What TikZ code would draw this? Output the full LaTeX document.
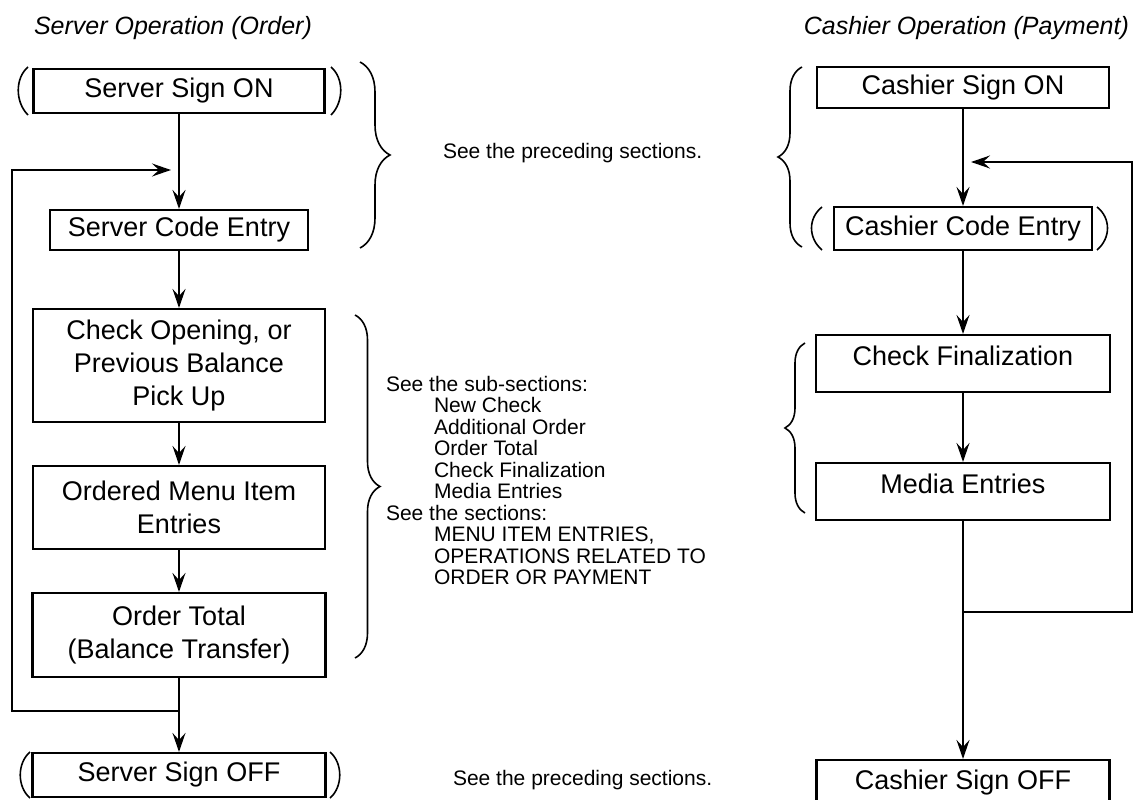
\documentclass[tikz,border=0pt]{standalone}
\usepackage{fontspec}
\setmainfont{Liberation Sans}
\usetikzlibrary{arrows.meta,decorations.pathreplacing}
\begin{document}
\begin{tikzpicture}[x=1pt,y=-1pt,line width=2.1pt,
    >={Stealth[length=19pt,width=13pt,inset=7pt]},
    box/.style={draw,inner sep=0pt,align=center,font=\fontsize{27}{33}\selectfont},
    toptext/.style={text height=30pt,text depth=27pt},
    paren/.style={line width=1.6pt},
    brc/.style={line width=1.6pt,decorate,decoration={brace,amplitude=#1}},
    note/.style={inner sep=0pt,font=\fontsize{21}{21.5}\selectfont},
    ttl/.style={inner sep=0pt,font=\itshape\fontsize{25}{30}\selectfont}]
    \useasboundingbox (0,0) rectangle (1144,800);

    % server column
    \node[ttl,anchor=west] (tServer) at (33,28) {Server Operation (Order)};
    \node[box,minimum width=291pt,minimum height=44pt] (sOn) at (179,91) {Server Sign ON};
    \node[box,minimum width=258pt,minimum height=40pt] (sCode) at (179,230) {Server Code Entry};
    \node[box,minimum width=292pt,minimum height=113pt] (sCheck) at (179,365.5) {Check Opening, or\\Previous Balance\\Pick Up};
    \node[box,minimum width=292pt,minimum height=83pt] (sMenu) at (179,507.5) {Ordered Menu Item\\Entries};
    \node[box,minimum width=293pt,minimum height=84pt] (sTot) at (179,635) {Order Total\\(Balance Transfer)};
    \node[box,minimum width=293pt,minimum height=44pt] (sOff) at (179,775) {Server Sign OFF};

    \draw[paren] (28,67) .. controls (15,78) and (15,102) .. (28,115);
    \draw[paren] (331,67) .. controls (344,78) and (344,102) .. (331,115);
    \draw[paren] (30,752) .. controls (17,763) and (17,787) .. (30,798);
    \draw[paren] (330,752) .. controls (343,763) and (343,787) .. (330,798);

    \coordinate (sMerge) at (179,170);
    \coordinate (sJoin) at (179,711);
    \coordinate (sBack) at (12,170);
    \draw[->] (sOn.south) -- (sCode.north);
    \draw[->] (sCode.south) -- (sCheck.north);
    \draw[->] (sCheck.south) -- (sMenu.north);
    \draw[->] (sMenu.south) -- (sTot.north);
    \draw[->] (sTot.south) -- (sOff.north);
    \draw[->] (sJoin) -| (sBack) -- ([xshift=-8pt]sMerge);

    % cashier column
    \node[ttl,anchor=east] (tCashier) at (1130,28) {Cashier Operation (Payment)};
    \node[box,minimum width=292pt,minimum height=41pt] (cOn) at (963,87.5) {Cashier Sign ON};
    \node[box,minimum width=258pt,minimum height=43pt] (cCode) at (963,228.5) {Cashier Code Entry};
    \node[box,toptext,minimum width=294pt,minimum height=57pt] (cFin) at (963,363.5) {Check Finalization};
    \node[box,toptext,minimum width=294pt,minimum height=57pt] (cMed) at (963,491.5) {Media Entries};
    \node[box,minimum width=293pt,minimum height=46pt] (cOff) at (963,783) {Cashier Sign OFF};

    \draw[paren] (822,207) .. controls (808,218) and (808,238) .. (822,250);
    \draw[paren] (1097,207) .. controls (1111,218) and (1111,238) .. (1097,250);

    \coordinate (cMerge) at (963,162);
    \coordinate (cJoin) at (963,612);
    \coordinate (cBack) at (1132,162);
    \draw[->] (cOn.south) -- (cCode.north);
    \draw[->] (cCode.south) -- (cFin.north);
    \draw[->] (cFin.south) -- (cMed.north);
    \draw[->] (cMed.south) -- (cOff.north);
    \draw[->] (cJoin) -| (cBack) -- ([xshift=8pt]cMerge);

    % braces and notes
    \draw[brc=30pt] (360,62) -- (360,248);
    \draw[brc=25pt] (355,315) -- (355,658);
    \draw[brc=24pt] (802,247) -- (802,67);
    \draw[brc=20pt] (805,513) -- (805,343);

    \node[note,anchor=west] (nPre) at (442,153) {See the preceding sections.};
    \node[note,anchor=north west,align=left] (nSub) at (385,375) {See the sub-sections:\\
      \hspace*{48pt}New Check\\
      \hspace*{48pt}Additional Order\\
      \hspace*{48pt}Order Total\\
      \hspace*{48pt}Check Finalization\\
      \hspace*{48pt}Media Entries\\
      See the sections:\\
      \hspace*{48pt}MENU ITEM ENTRIES,\\
      \hspace*{48pt}OPERATIONS RELATED TO\\
      \hspace*{48pt}ORDER OR PAYMENT};
    \node[note,anchor=west] (nPost) at (452,780) {See the preceding sections.};
  \end{tikzpicture}
\end{document}
